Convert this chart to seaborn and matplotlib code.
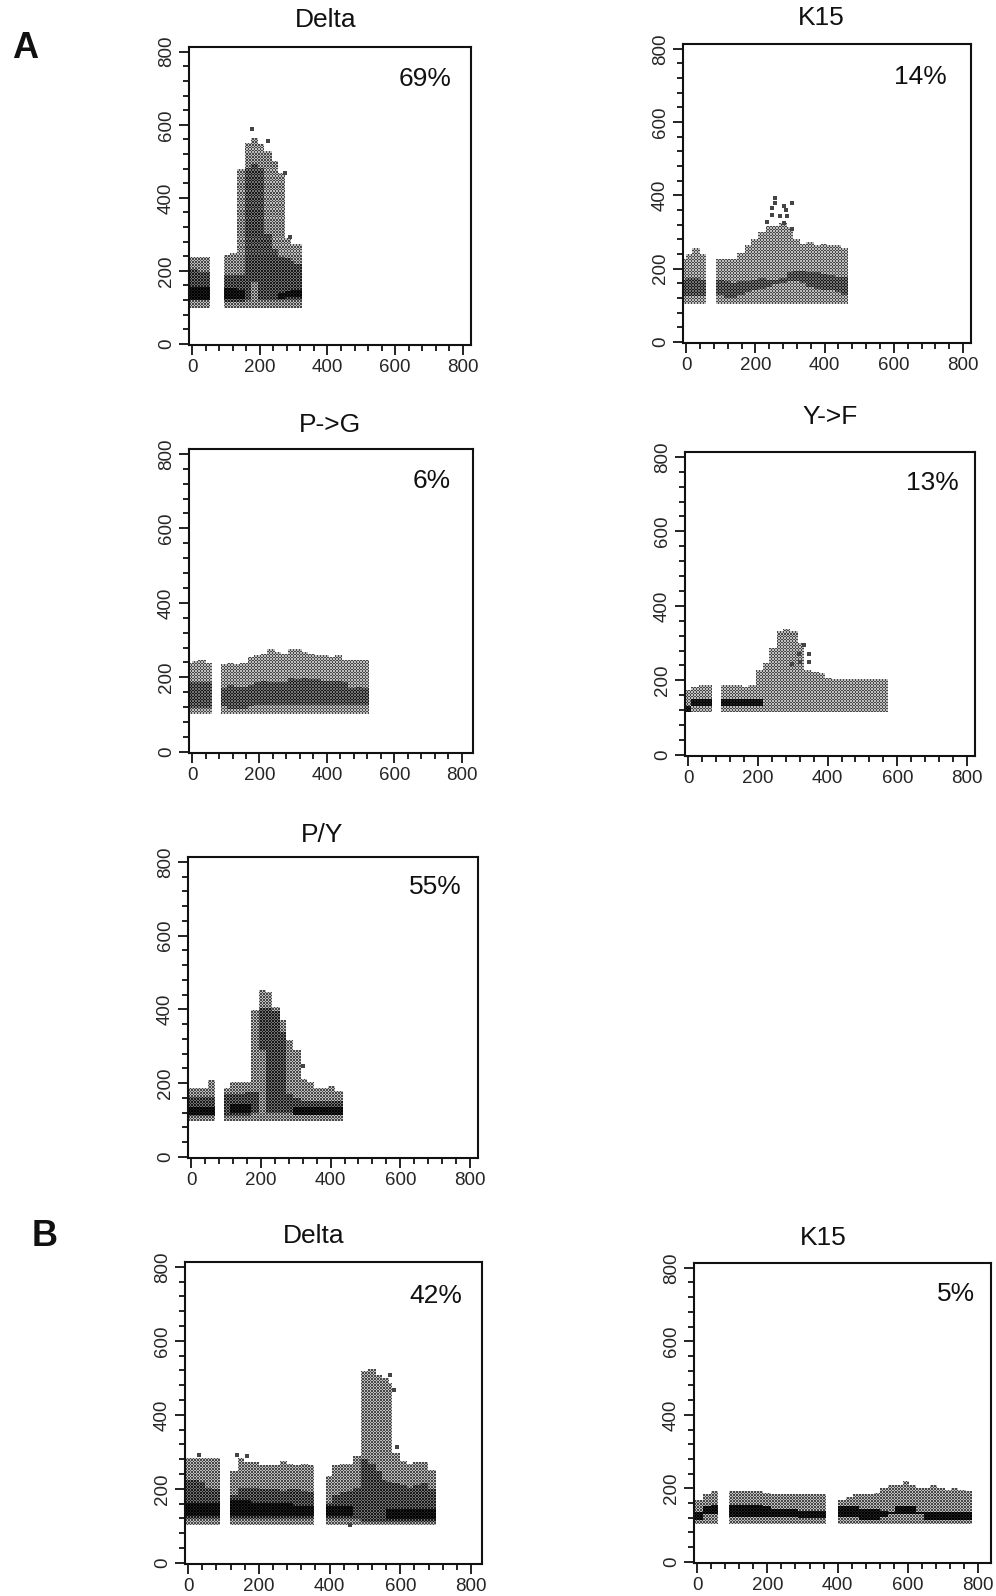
import numpy as np
import pandas as pd
import matplotlib
matplotlib.use("Agg")
import matplotlib.pyplot as plt
from matplotlib.ticker import MultipleLocator
import seaborn as sns

# ---- values ----
# x = left edge of a 20 wide column, top = outer contour, mid/core = darker bands (0 = no band)
delta_a_x = [-20, 0, 20, 35, 95, 115, 135, 155, 175, 195, 215, 235, 255, 275, 295, 305]
delta_a_top = [240, 240, 240, 240, 245, 250, 480, 555, 565, 550, 530, 505, 470, 290, 275, 275]
delta_a_mid_top = [205, 205, 200, 200, 190, 190, 190, 480, 495, 480, 300, 260, 240, 235, 225, 220]
delta_a_mid_bot = [120, 120, 120, 120, 115, 115, 115, 120, 170, 120, 120, 120, 120, 120, 120, 120]
delta_a_core_top = [158, 158, 158, 158, 155, 155, 150, 0, 0, 0, 0, 0, 140, 145, 150, 150]
delta_a_core_bot = [120, 120, 120, 120, 125, 125, 125, 0, 0, 0, 0, 0, 125, 128, 130, 130]
delta_a_specks_x = [176, 225, 275, 290]
delta_a_specks_y = [589, 555, 468, 293]

k15_a_x = [-20, 0, 20, 40, 90, 110, 130, 150, 170, 190, 210, 230, 250, 270, 290, 310, 330, 350, 370, 390, 410, 430, 450]
k15_a_top = [230, 240, 255, 240, 230, 230, 230, 245, 265, 280, 300, 320, 320, 325, 315, 280, 270, 275, 265, 270, 265, 265, 255]
k15_a_mid_top = [170, 175, 175, 170, 170, 165, 160, 165, 165, 170, 175, 170, 170, 175, 190, 195, 195, 190, 188, 185, 180, 178, 178]
k15_a_mid_bot = [125, 125, 125, 125, 130, 120, 120, 130, 135, 140, 145, 150, 155, 160, 165, 165, 160, 150, 145, 140, 140, 135, 130]
k15_a_specks_x = [258, 248, 282, 306, 248, 272, 291, 234, 282, 306, 258, 289]
k15_a_specks_y = [393, 366, 371, 378, 345, 343, 343, 326, 325, 307, 380, 359]

pg_x = [-20, 0, 20, 40, 85, 105, 125, 145, 165, 185, 205, 225, 245, 265, 285, 305, 325, 345, 365, 385, 405, 425, 445, 465, 485, 505]
pg_top = [240, 245, 250, 240, 235, 240, 235, 240, 255, 260, 265, 275, 270, 265, 275, 275, 270, 265, 260, 260, 255, 260, 250, 250, 250, 250]
pg_mid_top = [185, 185, 185, 185, 170, 180, 175, 175, 180, 185, 190, 185, 185, 185, 200, 195, 200, 195, 195, 190, 190, 190, 185, 170, 175, 170]
pg_mid_bot = [118, 118, 118, 118, 120, 115, 115, 115, 120, 125, 125, 125, 125, 125, 125, 125, 125, 125, 125, 125, 125, 125, 125, 125, 125, 125]

yf_x = [-10, 10, 30, 50, 95, 115, 135, 155, 175, 195, 215, 235, 255, 275, 295, 315, 335, 355, 375, 395, 415, 435, 455, 475, 495, 515, 535, 555]
yf_top = [175, 185, 190, 190, 190, 190, 190, 185, 190, 230, 250, 290, 335, 340, 335, 300, 230, 225, 220, 210, 205, 205, 205, 205, 205, 205, 205, 205]
yf_core_top = [130, 150, 150, 150, 150, 150, 150, 150, 150, 150, 0, 0, 0, 0, 0, 0, 0, 0, 0, 0, 0, 0, 0, 0, 0, 0, 0, 0]
yf_core_bot = [115, 130, 130, 130, 130, 130, 130, 130, 130, 130, 0, 0, 0, 0, 0, 0, 0, 0, 0, 0, 0, 0, 0, 0, 0, 0, 0, 0]
yf_specks_x = [331, 317, 346, 322, 346, 298]
yf_specks_y = [294, 272, 272, 250, 250, 245]

py_x = [-10, 10, 30, 50, 95, 115, 135, 155, 175, 195, 215, 235, 255, 275, 295, 315, 335, 355, 375, 395, 415]
py_top = [190, 190, 190, 210, 190, 205, 205, 205, 400, 455, 450, 410, 375, 320, 290, 215, 205, 190, 190, 195, 180]
py_mid_top = [165, 165, 165, 165, 170, 170, 170, 175, 175, 405, 405, 395, 340, 170, 160, 150, 150, 150, 150, 150, 150]
py_mid_bot = [112, 112, 112, 112, 110, 110, 110, 110, 120, 290, 120, 120, 120, 120, 120, 115, 115, 115, 115, 115, 115]
py_core_top = [137, 137, 137, 137, 0, 145, 145, 145, 0, 0, 0, 0, 0, 0, 135, 135, 135, 135, 135, 135, 135]
py_core_bot = [115, 115, 115, 115, 0, 118, 118, 118, 0, 0, 0, 0, 0, 0, 115, 115, 115, 115, 115, 115, 115]
py_specks_x = [322]
py_specks_y = [247]

delta_b_x = [-10, 10, 30, 50, 70, 120, 140, 160, 180, 200, 220, 240, 260, 280, 300, 320, 340, 390, 410, 430, 450, 470, 490, 510, 530, 550, 560, 580, 600, 620, 640, 660, 680]
delta_b_top = [285, 285, 285, 285, 285, 250, 285, 275, 275, 265, 265, 265, 280, 270, 265, 270, 265, 240, 265, 270, 270, 290, 520, 525, 510, 500, 490, 300, 280, 270, 275, 275, 255]
delta_b_mid_top = [225, 225, 220, 205, 200, 185, 205, 205, 205, 200, 200, 200, 195, 200, 200, 195, 190, 165, 185, 190, 195, 205, 280, 270, 250, 225, 220, 215, 210, 205, 210, 215, 200]
delta_b_mid_bot = [120, 120, 120, 120, 120, 120, 120, 120, 120, 120, 120, 120, 120, 120, 120, 120, 120, 120, 120, 120, 120, 120, 110, 110, 110, 110, 110, 110, 110, 110, 110, 110, 110]
delta_b_core_top = [165, 165, 165, 165, 165, 170, 170, 170, 165, 165, 165, 165, 165, 165, 155, 155, 155, 155, 155, 155, 155, 0, 0, 0, 0, 0, 145, 145, 145, 145, 145, 145, 145]
delta_b_core_bot = [128, 128, 128, 128, 128, 125, 125, 125, 125, 125, 125, 125, 125, 125, 125, 125, 125, 125, 125, 125, 125, 0, 0, 0, 0, 0, 118, 118, 118, 118, 118, 118, 118]
delta_b_specks_x = [30, 138, 166, 590, 571, 581, 458]
delta_b_specks_y = [291, 291, 289, 313, 507, 466, 102]

k15_b_x = [-20, 0, 20, 40, 90, 110, 130, 150, 170, 190, 210, 230, 250, 270, 290, 310, 330, 350, 405, 425, 445, 465, 485, 505, 525, 545, 565, 585, 605, 625, 645, 665, 685, 705, 725, 745, 765]
k15_b_top = [170, 170, 185, 195, 195, 195, 195, 195, 195, 190, 185, 185, 185, 185, 185, 185, 185, 185, 170, 180, 185, 185, 185, 190, 205, 210, 210, 225, 210, 205, 205, 210, 205, 200, 205, 200, 195]
k15_b_core_top = [135, 135, 150, 155, 155, 155, 155, 155, 155, 150, 145, 145, 145, 145, 140, 140, 140, 140, 150, 150, 150, 145, 145, 145, 140, 135, 150, 150, 150, 135, 135, 135, 135, 135, 135, 135, 135]
k15_b_core_bot = [115, 115, 130, 130, 125, 125, 125, 125, 125, 125, 125, 125, 125, 125, 118, 118, 118, 118, 125, 125, 125, 115, 115, 115, 125, 130, 130, 130, 130, 130, 115, 115, 115, 115, 115, 115, 115]

titles = ["Delta", "K15", "P->G", "Y->F", "P/Y", "Delta", "K15"]
percents = ["69%", "14%", "6%", "13%", "55%", "42%", "5%"]
floors = [100, 105, 105, 115, 100, 105, 105]
ticks = [0, 200, 400, 600, 800]

series = [
    (delta_a_x, delta_a_top, delta_a_mid_top, delta_a_mid_bot, delta_a_core_top, delta_a_core_bot),
    (k15_a_x, k15_a_top, k15_a_mid_top, k15_a_mid_bot, None, None),
    (pg_x, pg_top, pg_mid_top, pg_mid_bot, None, None),
    (yf_x, yf_top, None, None, yf_core_top, yf_core_bot),
    (py_x, py_top, py_mid_top, py_mid_bot, py_core_top, py_core_bot),
    (delta_b_x, delta_b_top, delta_b_mid_top, delta_b_mid_bot, delta_b_core_top, delta_b_core_bot),
    (k15_b_x, k15_b_top, None, None, k15_b_core_top, k15_b_core_bot),
]
specks = [(delta_a_specks_x, delta_a_specks_y), (k15_a_specks_x, k15_a_specks_y), None,
          (yf_specks_x, yf_specks_y), (py_specks_x, py_specks_y), (delta_b_specks_x, delta_b_specks_y), None]

# ---- layout in pixels of the 996x1596 picture ----
W, H = 996, 1596
boxes = [(189, 471, 47, 345), (683, 971, 44, 343), (189, 473, 449, 753), (685, 975, 452, 756),
         (188, 478, 857, 1158), (185, 482, 1262, 1564), (694, 991, 1263, 1563)]
title_pos = [(326, 20), (821, 18), (330, 425), (830, 417), (322, 835), (314, 1236), (823, 1238)]
pct_pos = [(425, 79), (920, 77), (432, 481), (932, 483), (435, 887), (436, 1296), (956, 1294)]
x_right = [824, 823, 833, 823, 823, 831, 837]
X0 = -9
YLIM = (-3, 813)
CELL_PX = 1.5

sns.set_theme(style="ticks")
plt.rcParams["font.family"] = ["Liberation Sans", "DejaVu Sans"]
fig = plt.figure(figsize=(W / 100, H / 100), dpi=100)


# Turn the contour columns into halftone cells, like the dithered print of the original
def make_cells(col, floor, dx, dy):
    x, top, mid_top, mid_bot, core_top, core_bot = col
    rows = []
    for n, left in enumerate(x):
        i0 = int(np.floor((left - X0) / dx))
        i1 = int(np.floor((left + 20 - X0) / dx))
        for i in range(i0, i1):
            cx = X0 + (i + 0.5) * dx
            for j in range(int((floor - YLIM[0]) / dy), int((top[n] - YLIM[0]) / dy)):
                cy = YLIM[0] + (j + 0.5) * dy
                odd = (i + j) % 2 == 1
                level = 0.72 if odd else 0.25
                if mid_top is not None and mid_bot[n] <= cy <= mid_top[n]:
                    level = 0.9 if odd else 0.55
                if core_top is not None and core_bot[n] <= cy <= core_top[n]:
                    level = 1.0 if odd else 0.88
                rows.append((cx, cy, level))
    df = pd.DataFrame(rows, columns=["x", "y", "w"])
    return df.drop_duplicates(["x", "y"], keep="last")


for k, box in enumerate(boxes):
    l, r, t, b = box
    xlim = (X0, x_right[k])
    ax = fig.add_axes([l / W, 1 - b / H, (r - l) / W, (b - t) / H])
    dx = CELL_PX * (xlim[1] - xlim[0]) / (r - l)
    dy = CELL_PX * (YLIM[1] - YLIM[0]) / (b - t)
    df = make_cells(series[k], floors[k], dx, dy)
    sns.histplot(data=df, x="x", y="y", weights="w", binwidth=(dx, dy), binrange=(xlim, YLIM),
                 cmap="gray_r", vmin=0, vmax=1, ax=ax)
    if specks[k] is not None:
        sns.scatterplot(x=specks[k][0], y=specks[k][1], marker="s", s=5, color="#444444", linewidth=0, ax=ax)
    ax.set_xlim(xlim)
    ax.set_ylim(YLIM)
    ax.set_xlabel("")
    ax.set_ylabel("")
    ax.set_xticks(ticks)
    ax.set_yticks(ticks)
    ax.xaxis.set_minor_locator(MultipleLocator(40))
    ax.yaxis.set_minor_locator(MultipleLocator(40))
    ax.tick_params(which="major", length=7, width=1.3, labelsize=13.5, color="#111111", pad=3)
    ax.tick_params(which="minor", length=4, width=1.3, color="#111111")
    plt.setp(ax.get_yticklabels(), rotation=90, va="center")
    for s in ax.spines.values():
        s.set_linewidth(1.5)
        s.set_color("#111111")
    fig.text(title_pos[k][0] / W, 1 - title_pos[k][1] / H, titles[k], fontsize=19,
             ha="center", va="center", color="#111111")
    fig.text(pct_pos[k][0] / W, 1 - pct_pos[k][1] / H, percents[k], fontsize=19,
             ha="center", va="center", color="#111111")

fig.text(25 / W, 1 - 48 / H, "A", fontsize=26, fontweight="bold", ha="center", va="center", color="#111111")
fig.text(45 / W, 1 - 1237 / H, "B", fontsize=26, fontweight="bold", ha="center", va="center", color="#111111")

fig.savefig("out.png", dpi=100, facecolor="white")
